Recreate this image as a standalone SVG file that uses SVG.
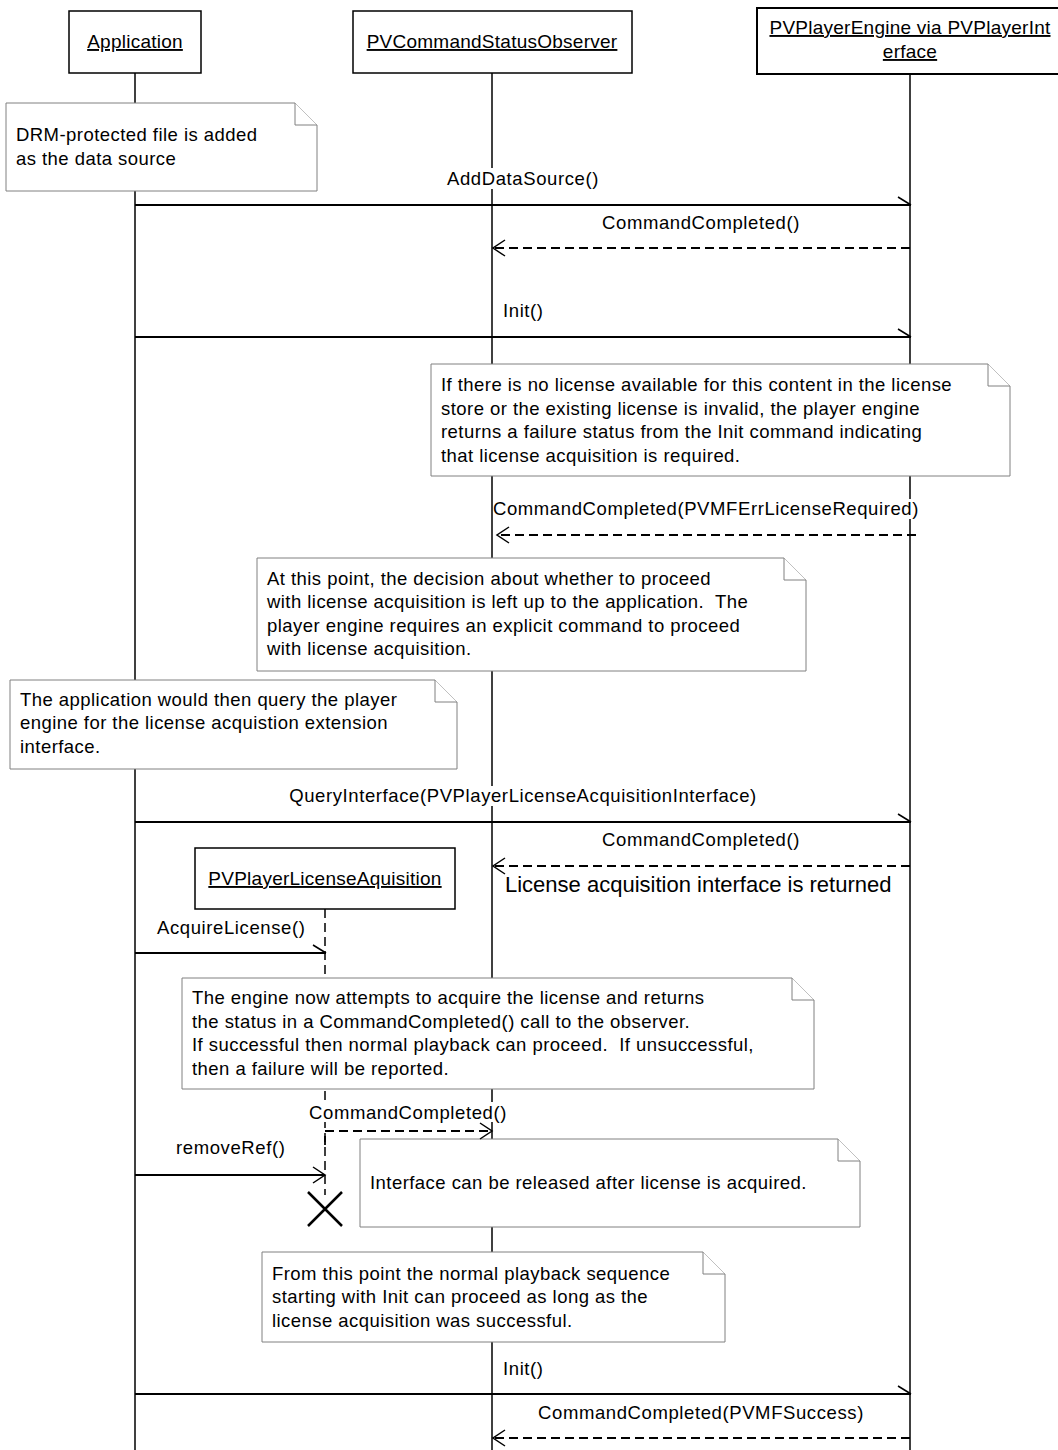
<svg xmlns="http://www.w3.org/2000/svg" width="1058" height="1450" viewBox="0 0 1058 1450">
<style>
  text { font-family: "Liberation Sans", Arial, sans-serif; fill: #000; white-space: pre; }
  .lbl { font-size: 18.5px; letter-spacing: 0.6px; }
  .nt { font-size: 18.5px; letter-spacing: 0.45px; }
  .hdr { font-size: 19px; letter-spacing: 0.25px; text-decoration: underline; }
  .big { font-size: 22px; }
  .note-box { fill: #fff; stroke: #808080; stroke-width: 1; }
  .obj { fill: #fff; stroke: #000; stroke-width: 1.5; }
  .life { stroke: #000; stroke-width: 1.5; fill: none; }
  .msg { stroke: #000; stroke-width: 1.8; fill: none; }
  .ret { stroke: #000; stroke-width: 1.8; fill: none; stroke-dasharray: 9 5; }
  .bg { fill: #fff; stroke: none; }
</style>
<defs>
  <marker id="half" markerWidth="16" markerHeight="12" refX="14" refY="10" orient="auto" markerUnits="userSpaceOnUse">
    <path d="M1,2 L14,10" stroke="#000" stroke-width="1.5" fill="none"/>
  </marker>
  <marker id="open" markerWidth="16" markerHeight="18" refX="14" refY="9" orient="auto" markerUnits="userSpaceOnUse">
    <path d="M2,1 L14,9 L2,17" stroke="#000" stroke-width="1.5" fill="none"/>
  </marker>
</defs>
<rect width="1058" height="1450" fill="#fff"/>

<!-- lifelines -->
<g id="lifelines">
  <line class="life" x1="135" y1="73" x2="135" y2="1450"/>
  <line class="life" x1="492" y1="73" x2="492" y2="1450"/>
  <line class="life" x1="910" y1="74" x2="910" y2="1450"/>
  <line class="life" x1="325" y1="909" x2="325" y2="1195" stroke-dasharray="9 5"/>
</g>

<!-- objects -->
<g id="obj-application">
  <rect class="obj" x="69" y="11" width="132" height="62"/>
  <text class="hdr" x="135" y="48" text-anchor="middle">Application</text>
</g>
<g id="obj-observer">
  <rect class="obj" x="353" y="11" width="279" height="62"/>
  <text class="hdr" x="492" y="48" text-anchor="middle">PVCommandStatusObserver</text>
</g>
<g id="obj-engine">
  <rect x="757" y="8" width="310" height="66" fill="#fff" stroke="#000" stroke-width="2"/>
  <text class="hdr" x="910" y="34" text-anchor="middle">PVPlayerEngine via PVPlayerInt</text>
  <text class="hdr" x="910" y="58" text-anchor="middle">erface</text>
</g>
<g id="obj-license">
  <rect class="obj" x="195" y="848" width="260" height="61"/>
  <text class="hdr" x="325" y="885" text-anchor="middle">PVPlayerLicenseAquisition</text>
</g>
<g id="destroy">
  <path d="M308,1192 L342,1226 M342,1192 L308,1226" stroke="#000" stroke-width="2.5" fill="none"/>
</g>

<!-- notes -->
<g id="note-1">
  <path class="note-box" d="M6,103 H295 L317,125 V191 H6 Z"/>
  <path class="note-box" d="M295,103 V125 H317" fill="none"/>
  <text class="nt" x="16" y="141">DRM-protected file is added</text>
  <text class="nt" x="16" y="165">as the data source</text>
</g>
<g id="note-2">
  <path class="note-box" d="M431,364 H988 L1010,386 V476 H431 Z"/>
  <path class="note-box" d="M988,364 V386 H1010" fill="none"/>
  <text class="nt" x="441" y="391">If there is no license available for this content in the license</text>
  <text class="nt" x="441" y="415">store or the existing license is invalid, the player engine</text>
  <text class="nt" x="441" y="438">returns a failure status from the Init command indicating</text>
  <text class="nt" x="441" y="462">that license acquisition is required.</text>
</g>
<g id="note-3">
  <path class="note-box" d="M257,558 H784 L806,580 V671 H257 Z"/>
  <path class="note-box" d="M784,558 V580 H806" fill="none"/>
  <text class="nt" x="267" y="585">At this point, the decision about whether to proceed</text>
  <text class="nt" x="267" y="608">with license acquisition is left up to the application.  The</text>
  <text class="nt" x="267" y="632">player engine requires an explicit command to proceed</text>
  <text class="nt" x="267" y="655">with license acquisition.</text>
</g>
<g id="note-4">
  <path class="note-box" d="M10,680 H435 L457,702 V769 H10 Z"/>
  <path class="note-box" d="M435,680 V702 H457" fill="none"/>
  <text class="nt" x="20" y="706">The application would then query the player</text>
  <text class="nt" x="20" y="729">engine for the license acquistion extension</text>
  <text class="nt" x="20" y="753">interface.</text>
</g>
<g id="note-5">
  <path class="note-box" d="M182,978 H792 L814,1000 V1089 H182 Z"/>
  <path class="note-box" d="M792,978 V1000 H814" fill="none"/>
  <text class="nt" x="192" y="1004">The engine now attempts to acquire the license and returns</text>
  <text class="nt" x="192" y="1028">the status in a CommandCompleted() call to the observer.</text>
  <text class="nt" x="192" y="1051">If successful then normal playback can proceed.  If unsuccessful,</text>
  <text class="nt" x="192" y="1075">then a failure will be reported.</text>
</g>
<g id="note-6">
  <path class="note-box" d="M360,1139 H838 L860,1161 V1227 H360 Z"/>
  <path class="note-box" d="M838,1139 V1161 H860" fill="none"/>
  <text class="nt" x="370" y="1189">Interface can be released after license is acquired.</text>
</g>
<g id="note-7">
  <path class="note-box" d="M262,1252 H703 L725,1274 V1342 H262 Z"/>
  <path class="note-box" d="M703,1252 V1274 H725" fill="none"/>
  <text class="nt" x="272" y="1280">From this point the normal playback sequence</text>
  <text class="nt" x="272" y="1303">starting with Init can proceed as long as the</text>
  <text class="nt" x="272" y="1327">license acquisition was successful.</text>
</g>

<!-- connectors -->
<g id="connectors">
  <line class="msg" x1="135" y1="205" x2="911" y2="205" marker-end="url(#half)"/>
  <line class="ret" x1="910" y1="248" x2="493" y2="248" marker-end="url(#open)"/>
  <line class="msg" x1="135" y1="337" x2="911" y2="337" marker-end="url(#half)"/>
  <line class="ret" x1="916" y1="535" x2="497" y2="535" marker-end="url(#open)"/>
  <line class="msg" x1="135" y1="822" x2="911" y2="822" marker-end="url(#half)"/>
  <line class="ret" x1="910" y1="866" x2="493" y2="866" marker-end="url(#open)"/>
  <line class="msg" x1="135" y1="953" x2="326" y2="953" marker-end="url(#half)"/>
  <path class="ret" d="M325,1145 V1131 H492" marker-end="url(#open)"/>
  <line class="msg" x1="135" y1="1175" x2="325" y2="1175" marker-end="url(#open)"/>
  <line class="msg" x1="135" y1="1394" x2="911" y2="1394" marker-end="url(#half)"/>
  <line class="ret" x1="910" y1="1438" x2="493" y2="1438" marker-end="url(#open)"/>
</g>

<!-- message labels -->
<g id="labels">
  <rect class="bg" x="446" y="168" width="154" height="21"/>
  <text class="lbl" x="523" y="185" text-anchor="middle">AddDataSource()</text>
  <text class="lbl" x="701" y="229" text-anchor="middle">CommandCompleted()</text>
  <text class="lbl" x="503" y="317">Init()</text>
  <rect class="bg" x="494" y="499" width="428" height="20"/>
  <text class="lbl" x="493" y="515">CommandCompleted(PVMFErrLicenseRequired)</text>
  <rect class="bg" x="290" y="786" width="466" height="20"/>
  <text class="lbl" x="523" y="802" text-anchor="middle">QueryInterface(PVPlayerLicenseAcquisitionInterface)</text>
  <text class="lbl" x="701" y="846" text-anchor="middle">CommandCompleted()</text>
  <text class="big" x="505" y="892">License acquisition interface is returned</text>
  <text class="lbl" x="157" y="934">AcquireLicense()</text>
  <rect class="bg" x="307" y="1102" width="203" height="20"/>
  <text class="lbl" x="408" y="1119" text-anchor="middle">CommandCompleted()</text>
  <text class="lbl" x="176" y="1154">removeRef()</text>
  <text class="lbl" x="503" y="1375">Init()</text>
  <text class="lbl" x="701" y="1419" text-anchor="middle">CommandCompleted(PVMFSuccess)</text>
</g>
</svg>
